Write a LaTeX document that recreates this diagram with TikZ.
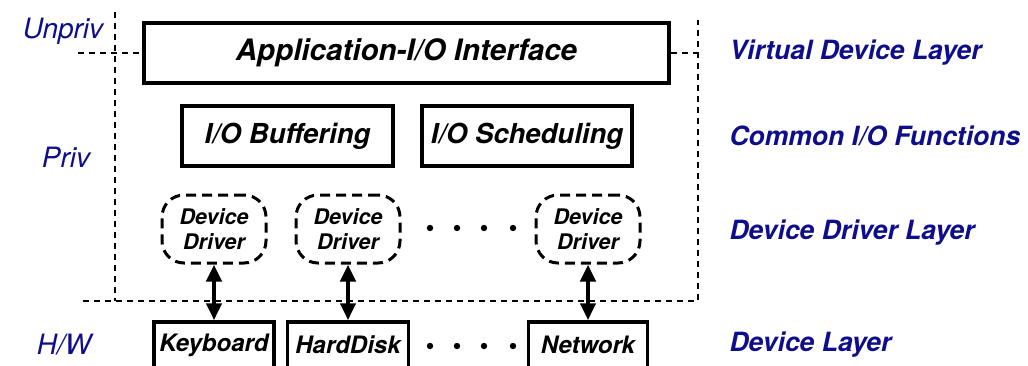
\documentclass[tikz,border=0pt]{standalone}
\usepackage{fontspec}
\setmainfont{TeX Gyre Heros}
\usepackage{xcolor}
\usepackage{tikz}
\usetikzlibrary{arrows.meta}

\definecolor{layerblue}{RGB}{14,14,140}

\tikzset{
  layerbox/.style = {draw, line width=3.5pt, inner sep=0pt, font=\bfseries\itshape},
  driverbox/.style = {draw, line width=3pt, dash pattern=on 10pt off 6pt, rounded corners=22pt,
                      minimum width=104pt, minimum height=68pt, align=center,
                      font=\fontsize{21.5}{25}\selectfont\bfseries\itshape},
  layername/.style = {anchor=west, text=layerblue, font=\fontsize{26.5}{30}\selectfont\bfseries\itshape},
  privname/.style = {text=layerblue, font=\fontsize{28}{30}\selectfont\itshape},
  border/.style = {line width=2.8pt, dash pattern=on 6pt off 5pt},
  link/.style = {line width=4.5pt, {Triangle[width=15pt,length=17pt]}-{Triangle[width=15pt,length=17pt]}}
}

\begin{document}
\begin{tikzpicture}[x=10pt,y=-10pt]
    \useasboundingbox (0,0) rectangle (102.8,36.5);
    \clip (0,0) rectangle (102.8,36.5);

    % layers
    \node[layerbox, minimum width=525pt, minimum height=60pt, font=\fontsize{29.5}{32}\selectfont\bfseries\itshape](appIO) at (40.65,5.3) {Application-I/O Interface};
    \node[layerbox, minimum width=211pt, minimum height=60pt, font=\fontsize{27.5}{30}\selectfont\bfseries\itshape](buffering) at (28.75,13.6) {I/O Buffering};
    \node[layerbox, minimum width=210pt, minimum height=60pt, font=\fontsize{27.5}{30}\selectfont\bfseries\itshape](scheduling) at (52.7,13.6) {I/O Scheduling};

    \node[driverbox](driverA) at (21.4,22.9) {Device\\Driver};
    \node[driverbox](driverB) at (34.8,22.9) {Device\\Driver};
    \node[driverbox](driverC) at (58.8,22.9) {Device\\Driver};

    \node[layerbox, minimum width=120pt, minimum height=46pt, font=\fontsize{24}{26}\selectfont\bfseries\itshape](keyboard) at (21.4,34.5) {Keyboard};
    \node[layerbox, minimum width=121pt, minimum height=46pt, font=\fontsize{24}{26}\selectfont\bfseries\itshape](harddisk) at (34.8,34.5) {HardDisk};
    \node[layerbox, minimum width=119pt, minimum height=46pt, font=\fontsize{24}{26}\selectfont\bfseries\itshape](network) at (58.8,34.5) {Network};

    \draw[link] (driverA.south) -- (keyboard.north);
    \draw[link] (driverB.south) -- (harddisk.north);
    \draw[link] (driverC.south) -- (network.north);

    \foreach \x in {43.0,45.7,48.4,51.3} {
      \fill (\x,22.8) circle (3.2pt);
      \fill (\x,34.6) circle (3.2pt);
    }

    % privilege borders
    \coordinate (privTop) at (11.5,1.2);
    \coordinate (privCorner) at (11.5,30.1);
    \coordinate (hwLeft) at (8.3,30.1);
    \coordinate (hwRight) at (69.8,30.1);
    \coordinate (rightTop) at (69.8,2.0);
    \coordinate (unprivLeft) at (7.8,5.3);
    \coordinate (unprivRight) at (69.8,5.3);

    \draw[border] (privTop) -- (privCorner);
    \draw[border] (hwLeft) -- (hwRight) -- (rightTop);
    \draw[border] (unprivLeft) -- (appIO.west);
    \draw[border] (appIO.east) -- (unprivRight);

    \node[privname](unpriv) at (6.3,3.1) {Unpriv};
    \node[privname](priv) at (6.6,15.7) {Priv};
    \node[privname](hw) at (6.4,34.5) {H/W};

    \node[layername](virtualLayer) at (72.6,5.3) {Virtual Device Layer};
    \node[layername](commonLayer) at (72.6,13.6) {Common I/O Functions};
    \node[layername](driverLayer) at (72.6,23.3) {Device Driver Layer};
    \node[layername](deviceLayer) at (72.6,34.5) {Device Layer};
\end{tikzpicture}
\end{document}
